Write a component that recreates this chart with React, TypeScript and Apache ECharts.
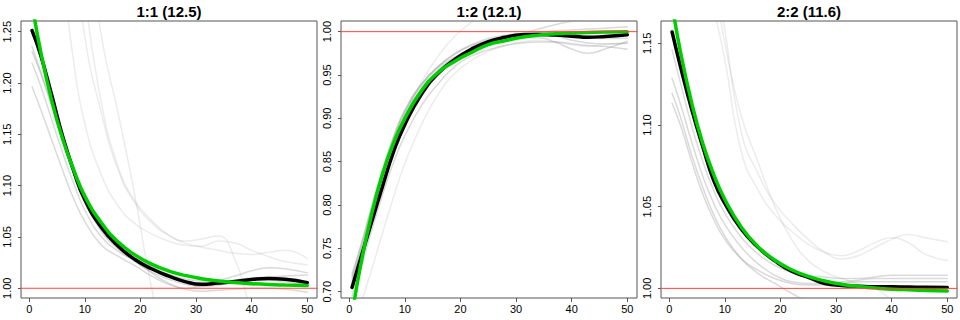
import React, { useEffect, useRef } from 'react';
import * as echarts from 'echarts';

// ---------- data ----------
const xs = [0.5, 2, 4, 6, 8, 10, 13, 16, 19, 22, 25, 28, 31, 34, 37, 40, 43, 46, 50];
const xTicks = [0, 10, 20, 30, 40, 50];
const titles = ['1:1 (12.5)', '1:2 (12.1)', '2:2 (11.6)'];
const yTicks1 = [1.0, 1.05, 1.1, 1.15, 1.2, 1.25];
const yTicks2 = [0.7, 0.75, 0.8, 0.85, 0.9, 0.95, 1.0];
const yTicks3 = [1.0, 1.05, 1.1, 1.15];
const refValue = 1.0;

// panel 1 (1:1)
const mean1 = [1.251, 1.228, 1.189, 1.148, 1.114, 1.086, 1.059, 1.041, 1.028, 1.019, 1.012, 1.0065, 1.0038, 1.005, 1.0065, 1.0085, 1.0095, 1.0088, 1.0055];
const fit1 = [1.277, 1.232, 1.1836, 1.1454, 1.1152, 1.0895, 1.0635, 1.045, 1.0325, 1.0235, 1.017, 1.0125, 1.0093, 1.0071, 1.0055, 1.0044, 1.0036, 1.0031, 1.0026];
const near1 = [
  [1.2355, 1.212, 1.18, 1.148, 1.118, 1.092, 1.062, 1.043, 1.031, 1.021, 1.014, 1.009, 1.007, 1.008, 1.012, 1.017, 1.02, 1.019, 1.015],
  [1.2306, 1.21, 1.178, 1.145, 1.113, 1.085, 1.055, 1.038, 1.026, 1.016, 1.009, 1.004, 1.002, 1.003, 1.006, 1.008, 1.008, 1.006, 1.005],
  [1.2193, 1.198, 1.165, 1.132, 1.102, 1.076, 1.05, 1.036, 1.027, 1.015, 1.005, 0.999, 0.997, 0.998, 0.999, 1.0, 1.0, 0.999, 0.996],
  [1.1965, 1.175, 1.145, 1.115, 1.087, 1.065, 1.042, 1.031, 1.022, 1.012, 1.004, 1.0, 1.002, 1.005, 1.008, 1.01, 1.011, 1.012, 1.013],
];
const far1 = [
  [1.6, 1.5, 1.4, 1.31, 1.22, 1.16, 1.11, 1.08, 1.063, 1.053, 1.046, 1.042, 1.041, 1.046, 1.044, 1.037, 1.031, 1.026, 1.023],
  [1.95, 1.8, 1.62, 1.47, 1.35, 1.245, 1.17, 1.115, 1.083, 1.064, 1.052, 1.046, 1.048, 1.051, 1.028, 0.98, 0.955, 0.945, 0.94],
  [2.2, 2.0, 1.8, 1.62, 1.48, 1.37, 1.245, 1.17, 1.09, 1.0, 0.93, 0.88, 0.86, 0.85, 0.85, 0.85, 0.85, 0.85, 0.85],
  [2.0, 1.85, 1.65, 1.5, 1.38, 1.285, 1.18, 1.118, 1.085, 1.066, 1.052, 1.044, 1.04, 1.037, 1.034, 1.033, 1.035, 1.037, 1.029],
];

// panel 2 (1:2)
const mean2 = [0.705, 0.737, 0.78, 0.822, 0.862, 0.893, 0.928, 0.952, 0.968, 0.98, 0.9885, 0.9935, 0.9965, 0.9968, 0.996, 0.9948, 0.9935, 0.9945, 0.9965];
const fit2 = [0.673, 0.729, 0.789, 0.836, 0.872, 0.9, 0.932, 0.953, 0.966, 0.976, 0.985, 0.9895, 0.9935, 0.996, 0.9975, 0.9985, 0.999, 0.9995, 0.9998];
const near2 = [
  [0.721, 0.752, 0.798, 0.842, 0.88, 0.91, 0.94, 0.96, 0.974, 0.984, 0.99, 0.994, 0.997, 0.999, 1.001, 1.002, 1.003, 1.004, 1.0058],
  [0.7155, 0.745, 0.79, 0.835, 0.873, 0.903, 0.934, 0.955, 0.969, 0.979, 0.987, 0.993, 0.998, 1.003, 1.008, 1.012, 1.015, 1.016, 1.016],
  [0.695, 0.725, 0.77, 0.812, 0.85, 0.88, 0.915, 0.94, 0.96, 0.972, 0.979, 0.984, 0.987, 0.988, 0.988, 0.986, 0.984, 0.983, 0.9797],
  [0.712, 0.745, 0.792, 0.838, 0.877, 0.907, 0.938, 0.958, 0.971, 0.98, 0.986, 0.99, 0.993, 0.993, 0.988, 0.98, 0.975, 0.98, 0.9889],
  [0.718, 0.75, 0.796, 0.84, 0.878, 0.908, 0.939, 0.96, 0.975, 0.985, 0.992, 0.996, 0.998, 0.999, 0.999, 0.997, 0.994, 0.992, 0.9924],
  [0.706, 0.738, 0.783, 0.828, 0.868, 0.9, 0.933, 0.955, 0.97, 0.98, 0.987, 0.992, 0.995, 0.996, 0.995, 0.99, 0.987, 0.986, 0.9866],
];
const far2 = [
  [0.66, 0.685, 0.725, 0.768, 0.81, 0.848, 0.893, 0.928, 0.952, 0.967, 0.977, 0.984, 0.988, 0.99, 0.988, 0.985, 0.983, 0.985, 0.987],
  [0.7, 0.735, 0.785, 0.832, 0.872, 0.905, 0.942, 0.972, 0.995, 1.011, 1.025, 1.03, 1.035, 1.04, 1.04, 1.04, 1.04, 1.04, 1.04],
];

// panel 3 (2:2)
const mean3 = [1.157, 1.136, 1.11, 1.087, 1.066, 1.052, 1.036, 1.025, 1.0168, 1.0105, 1.0068, 1.003, 1.0018, 1.0013, 1.001, 1.001, 1.0008, 1.0007, 1.0006];
const fit3 = [1.174, 1.145, 1.114, 1.089, 1.0697, 1.0544, 1.0373, 1.0254, 1.0172, 1.0114, 1.0073, 1.0045, 1.0025, 1.0012, 1.0002, 0.9995, 0.9991, 0.99875, 0.99846];
const near3 = [
  [1.146, 1.126, 1.1, 1.078, 1.06, 1.046, 1.031, 1.021, 1.014, 1.01, 1.008, 1.007, 1.006, 1.006, 1.007, 1.008, 1.008, 1.008, 1.008],
  [1.1286, 1.113, 1.09, 1.069, 1.052, 1.039, 1.025, 1.015, 1.008, 1.004, 1.003, 1.003, 1.004, 1.005, 1.006, 1.006, 1.006, 1.006, 1.006],
  [1.1194, 1.105, 1.082, 1.062, 1.045, 1.032, 1.018, 1.009, 1.003, 0.997, 0.992, 0.989, 0.988, 0.988, 0.99, 0.992, 0.993, 0.993, 0.993],
  [1.1133, 1.1, 1.078, 1.058, 1.042, 1.03, 1.018, 1.011, 1.006, 1.003, 1.002, 1.002, 1.003, 1.004, 1.004, 1.004, 1.004, 1.004, 1.004],
];
const far3 = [
  [1.4, 1.34, 1.27, 1.21, 1.172, 1.14, 1.083, 1.06, 1.045, 1.035, 1.027, 1.022, 1.02, 1.023, 1.028, 1.031, 1.028, 1.021, 1.017],
  [1.45, 1.38, 1.3, 1.24, 1.2, 1.158, 1.095, 1.07, 1.052, 1.04, 1.03, 1.022, 1.018, 1.02, 1.025, 1.03, 1.033, 1.031, 1.0285],
  [1.43, 1.36, 1.29, 1.23, 1.19, 1.15, 1.105, 1.077, 1.05, 1.03, 1.017, 1.01, 1.006, 1.003, 1.0, 0.993, 0.985, 0.98, 0.975],
];

// ---------- layout / style ----------
const panels = [
  { left: 21, yMin: 0.9905, yMax: 1.2604, ticks: yTicks1, mean: mean1, fit: fit1, near: near1, far: far1 },
  { left: 341, yMin: 0.6927, yMax: 1.0123, ticks: yTicks2, mean: mean2, fit: fit2, near: near2, far: far2 },
  { left: 661, yMin: 0.9941, yMax: 1.1637, ticks: yTicks3, mean: mean3, fit: fit3, near: near3, far: far3 },
];
const GRID_TOP = 21;
const GRID_W = 296;
const GRID_H = 277;
const X_MIN = -1.49;
const X_MAX = 51.75;
const FONT = '"Liberation Sans", Arial, Helvetica, sans-serif';

function lineSeries(i: number, data: number[][], color: string, width: number, z: number, smooth: number) {
  return {
    type: 'line',
    xAxisIndex: i,
    yAxisIndex: i,
    data,
    smooth,
    symbol: 'none',
    silent: true,
    clip: true,
    z,
    lineStyle: { color, width, cap: 'round', join: 'round' },
  };
}

function pts(vals: number[]) {
  return xs.map((x, k) => [x, vals[k]]);
}

function buildOption() {
  const grid: any[] = [];
  const xAxis: any[] = [];
  const yAxis: any[] = [];
  const series: any[] = [];
  const graphic: any[] = [];

  panels.forEach((p, i) => {
    grid.push({
      left: p.left,
      top: GRID_TOP,
      width: GRID_W,
      height: GRID_H,
      show: true,
      borderColor: '#555',
      borderWidth: 1,
      backgroundColor: 'transparent',
    });
    xAxis.push({
      gridIndex: i,
      type: 'value',
      min: X_MIN,
      max: X_MAX,
      axisLine: { show: false, onZero: false },
      splitLine: { show: false },
      axisTick: { show: true, length: 4, lineStyle: { color: '#555' }, customValues: xTicks },
      axisLabel: { customValues: xTicks, fontSize: 11, color: '#000', margin: 5, fontFamily: FONT },
    });
    yAxis.push({
      gridIndex: i,
      type: 'value',
      min: p.yMin,
      max: p.yMax,
      axisLine: { show: false, onZero: false },
      splitLine: { show: false },
      axisTick: { show: true, length: 3, lineStyle: { color: '#555' }, customValues: p.ticks },
      axisLabel: {
        customValues: p.ticks,
        rotate: 90,
        fontSize: 11,
        color: '#000',
        margin: 9,
        fontFamily: FONT,
        formatter: (v: number) => v.toFixed(2),
      },
    });
    p.far.forEach((vals) => series.push(lineSeries(i, pts(vals), 'rgba(150,150,150,0.18)', 1.5, 2, 0.5)));
    p.near.forEach((vals) => series.push(lineSeries(i, pts(vals), 'rgba(150,150,150,0.35)', 1.5, 3, 0.5)));
    series.push(lineSeries(i, pts(p.mean), '#000000', 3.5, 4, 0.5));
    series.push(lineSeries(i, pts(p.fit), '#00cd00', 3.5, 5, 0.5));
    series.push(lineSeries(i, [[X_MIN, refValue], [X_MAX, refValue]], '#ff4040', 1, 6, 0));
    graphic.push({
      type: 'text',
      x: p.left + GRID_W / 2,
      y: 11,
      style: {
        text: titles[i],
        font: `bold 15px ${FONT}`,
        fill: '#000',
        textAlign: 'center',
        align: 'center',
        textVerticalAlign: 'middle',
        verticalAlign: 'middle',
      },
    });
  });

  return { animation: false, backgroundColor: '#fff', grid, xAxis, yAxis, series, graphic };
}

export default function App() {
  const ref = useRef<HTMLDivElement>(null);
  useEffect(() => {
    const chart = echarts.init(ref.current!, null, { renderer: 'svg' });
    chart.setOption(buildOption());
    return () => chart.dispose();
  }, []);
  return <div ref={ref} style={{ position: 'fixed', left: 0, top: 0, width: 960, height: 320 }} />;
}
